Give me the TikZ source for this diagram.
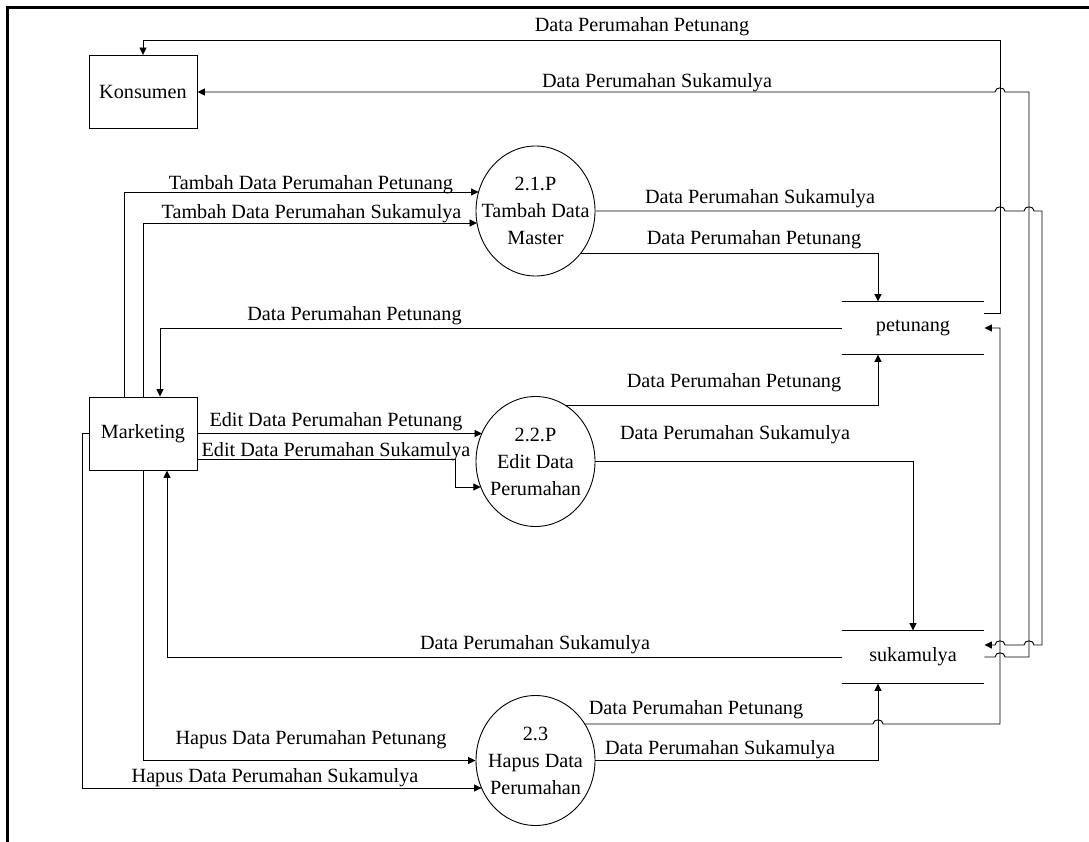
\documentclass[tikz,border=0pt]{standalone}
\usepackage{fontspec}
\setmainfont{Liberation Serif}
\usetikzlibrary{arrows.meta,calc,shapes.geometric}
\begin{document}
\begin{tikzpicture}[x=1pt,y=-1pt,line width=0.9pt,
  font=\fontsize{20.2}{27}\selectfont,
  entity/.style={draw, rectangle, minimum width=108pt, minimum height=73pt, inner sep=0pt},
  process/.style={draw, ellipse, minimum width=119pt, minimum height=130pt, inner sep=0pt},
  ptext/.style={align=center, inner sep=0pt},
  store/.style={minimum width=142pt, minimum height=52pt, inner sep=0pt},
  flow/.style={-{Triangle[length=7.5pt,width=7pt]}},
  lbl/.style={anchor=base, inner sep=0pt},
  frame/.style={line width=2.6pt}]
\useasboundingbox (0,0) rectangle (1089,842);
\draw[frame] (1089,7.3) -- (7.3,7.3) -- (7.3,842);

% entities
\node[entity] (kon) at (143,92) {Konsumen};
\node[entity] (mkt) at (143,433.5) {Marketing};

% processes
\node[process] (p21) at (535.5,211) {};
\node[ptext] (t21) at (p21.center) {2.1.P\\Tambah Data\\Master};
\node[process] (p22) at (535.5,461.5) {};
\node[ptext] (t22) at (p22.center) {2.2.P\\Edit Data\\Perumahan};
\node[process] (p23) at (535.5,760.5) {};
\node[ptext] (t23) at (p23.center) {2.3\\Hapus Data\\Perumahan};

% stores
\node[store] (pet) at (913,328) {petunang};
\draw (pet.north west) -- (pet.north east) (pet.south west) -- (pet.south east);
\node[store] (suk) at (913,657) {sukamulya};
\draw (suk.north west) -- (suk.north east) (suk.south west) -- (suk.south east);

% flows
\draw[flow] ($(pet.east)+(0,-15)$) -- (1000,313) -- (1000,40) -| (kon.north);
\draw[flow] (suk.east) -- (995,657) .. controls (995,651.5) and (1005,651.5) .. (1005,657) -- (1029,657) -- (1029,92) -- (1005,92) .. controls (1005,86.5) and (995,86.5) .. (995,92) -- (kon.east);
\draw[flow] ($(mkt.north)+(-19,0)$) -- (124,192) -- ($(p21.center)+(-56.9,-19)$);
\draw[flow] (mkt.north) -- (143,223) -- ($(p21.center)+(-58.5,12)$);
\draw[flow] (p21.east) -- (995,211) .. controls (995,205.5) and (1005,205.5) .. (1005,211) -- (1024,211) .. controls (1024,205.5) and (1034,205.5) .. (1034,211) -- (1042,211) -- (1042,645) -- (1034,645) .. controls (1034,639.5) and (1024,639.5) .. (1024,645) -- (1005,645) .. controls (1005,639.5) and (995,639.5) .. (995,645) -- ($(suk.east)+(0,-12)$);
\draw[flow] ($(p21.center)+(45.4,42)$) -- (878,253) -- ($(pet.north)+(-35,0)$);
\draw[flow] (pet.west) -- (160,328) -- ($(mkt.north)+(17,0)$);
\draw[flow] (mkt.east) -- ($(p22.center)+(-53.5,-28)$);
\draw[flow] ($(mkt.east)+(0,25.5)$) -- (455,459) -- (455,487) -- ($(p22.center)+(-54.7,25.5)$);
\draw[flow] ($(p22.center)+(29.4,-56.5)$) -- (878,405) -- ($(pet.south)+(-35,0)$);
\draw[flow] (p22.east) -- (913,461.5) -- (suk.north);
\draw[flow] (suk.west) -- (167,657) -- ($(mkt.south)+(24,0)$);
\draw[flow] (mkt.south) -- (143,760.5) -- (p23.west);
\draw[flow] (mkt.west) -- (82,433.5) -- (82,788) -- ($(p23.center)+(-53.9,27.5)$);
\draw[flow] ($(p23.center)+(49.2,-36.5)$) -- (873,724) .. controls (873,718.5) and (883,718.5) .. (883,724) -- (1000,724) -- (1000,328) -- (pet.east);
\draw[flow] (p23.east) -- (878,760.5) -- ($(suk.south)+(-35,0)$);

% labels
\node[lbl] (l1) at (642,32) {Data Perumahan Petunang};
\node[lbl] (l2) at (657,88) {Data Perumahan Sukamulya};
\node[lbl] (l3) at (311,190) {Tambah Data Perumahan Petunang};
\node[lbl] (l4) at (311.5,219) {Tambah Data Perumahan Sukamulya};
\node[lbl] (l5) at (760,204) {Data Perumahan Sukamulya};
\node[lbl] (l6) at (754,245) {Data Perumahan Petunang};
\node[lbl] (l7) at (354.5,320) {Data Perumahan Petunang};
\node[lbl] (l8) at (734,387) {Data Perumahan Petunang};
\node[lbl] (l9) at (336,426) {Edit Data Perumahan Petunang};
\node[lbl] (l10) at (336,456) {Edit Data Perumahan Sukamulya};
\node[lbl] (l11) at (735,439) {Data Perumahan Sukamulya};
\node[lbl] (l12) at (535,649) {Data Perumahan Sukamulya};
\node[lbl] (l13) at (696,714) {Data Perumahan Petunang};
\node[lbl] (l14) at (720,754) {Data Perumahan Sukamulya};
\node[lbl] (l15) at (311,744) {Hapus Data Perumahan Petunang};
\node[lbl] (l16) at (275,782) {Hapus Data Perumahan Sukamulya};
\end{tikzpicture}
\end{document}
